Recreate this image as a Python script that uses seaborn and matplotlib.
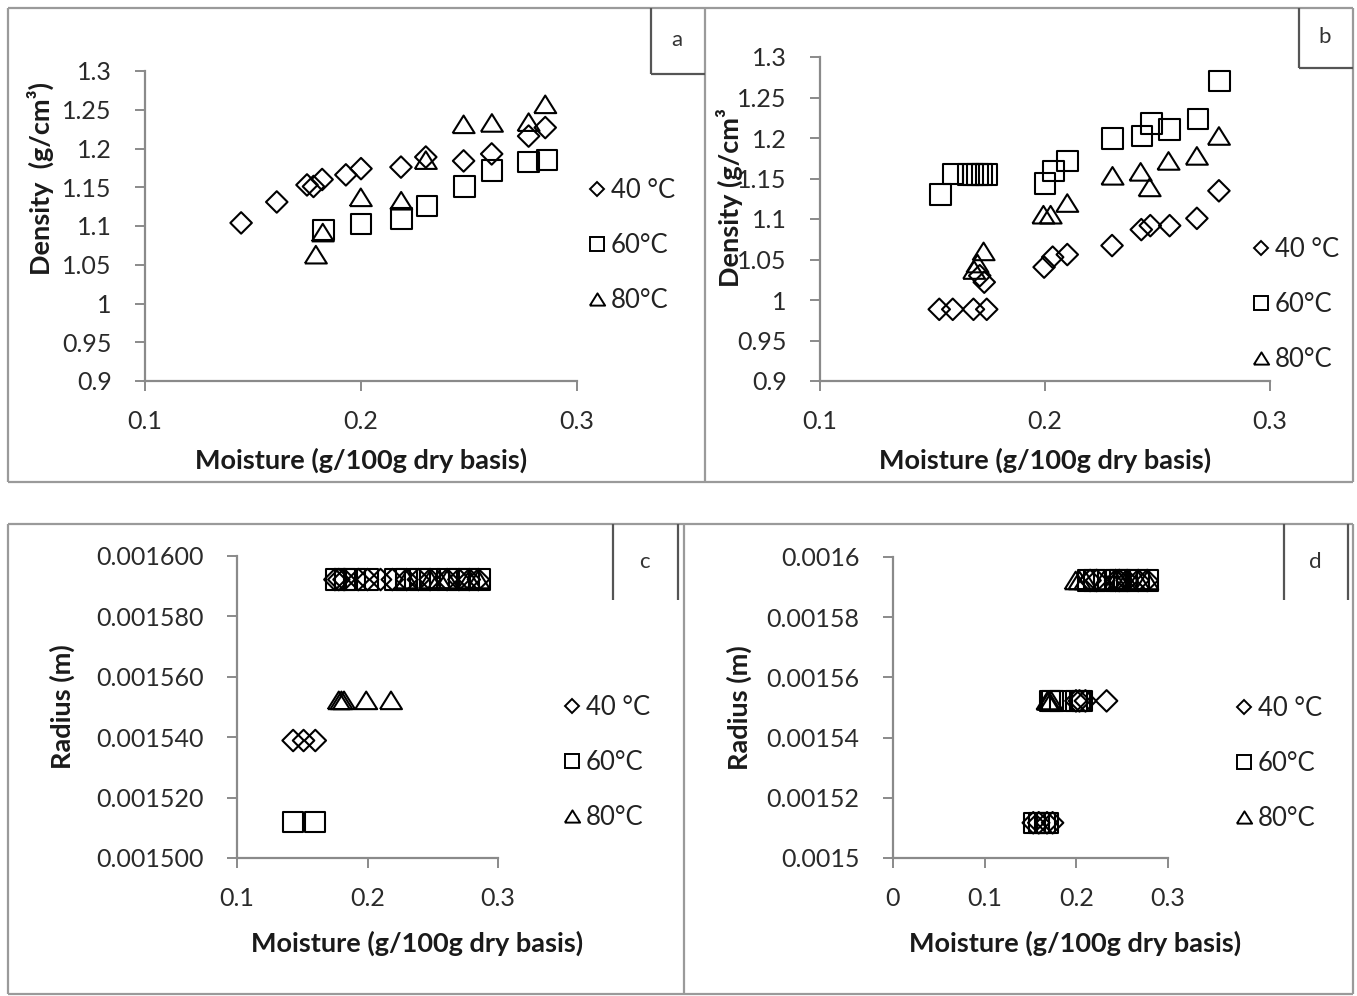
import matplotlib
matplotlib.use("Agg")
import matplotlib.pyplot as plt
import pandas as pd
import seaborn as sns
from matplotlib.lines import Line2D
from matplotlib.ticker import FuncFormatter

# ---------------- data ----------------
TEMPS = ["40 °C", "60°C", "80°C"]

# panel a : density vs moisture
a_x40 = [0.1445, 0.161, 0.175, 0.178, 0.182, 0.193, 0.200, 0.2185, 0.230, 0.2475, 0.2605, 0.2776, 0.2853]
a_y40 = [1.104, 1.131, 1.153, 1.151, 1.160, 1.166, 1.174, 1.176, 1.189, 1.184, 1.193, 1.216, 1.227]
a_x60 = [0.1826, 0.2001, 0.2188, 0.2305, 0.248, 0.2606, 0.2776, 0.2861]
a_y60 = [1.0945, 1.1023, 1.1097, 1.126, 1.151, 1.1715, 1.1824, 1.1854]
a_x80 = [0.1791, 0.1823, 0.1999, 0.2186, 0.230, 0.2475, 0.2606, 0.2776, 0.2853]
a_y80 = [1.063, 1.0915, 1.137, 1.1326, 1.185, 1.2312, 1.233, 1.234, 1.257]

# panel b : density vs moisture
b_x40 = [0.153, 0.159, 0.1682, 0.1741, 0.171, 0.173, 0.1996, 0.2034, 0.2099, 0.2298, 0.2428, 0.2468, 0.2554, 0.2675, 0.2773]
b_y40 = [0.9885, 0.9885, 0.9885, 0.9885, 1.030, 1.022, 1.0406, 1.0529, 1.0561, 1.0672, 1.0869, 1.0918, 1.0918, 1.1008, 1.1348]
b_x60 = [0.1535, 0.1591, 0.166, 0.168, 0.170, 0.172, 0.174, 0.200, 0.2037, 0.210, 0.230, 0.2431, 0.2473, 0.2554, 0.268, 0.2775]
b_y60 = [1.1303, 1.1553, 1.155, 1.155, 1.155, 1.155, 1.155, 1.1439, 1.1594, 1.1717, 1.1992, 1.2025, 1.218, 1.2107, 1.2238, 1.2701]
b_x80 = [0.1685, 0.170, 0.1727, 0.1993, 0.2025, 0.2099, 0.230, 0.2425, 0.2465, 0.2549, 0.2675, 0.2773]
b_y80 = [1.037, 1.045, 1.060, 1.1053, 1.1053, 1.1197, 1.1533, 1.1582, 1.139, 1.1717, 1.1779, 1.2025]

# panel c : radius vs moisture
c_x40 = [0.143, 0.151, 0.160, 0.175, 0.178, 0.182, 0.193, 0.200, 0.210, 0.219, 0.230, 0.239, 0.248, 0.261, 0.270, 0.278, 0.285]
c_y40 = [0.0015389, 0.0015389, 0.0015389, 0.0015922, 0.0015922, 0.0015922, 0.0015922, 0.0015922, 0.0015922,
         0.0015922, 0.0015922, 0.0015922, 0.0015922, 0.0015922, 0.0015922, 0.0015922, 0.0015922]
c_x60 = [0.143, 0.160, 0.176, 0.183, 0.190, 0.200, 0.221, 0.230, 0.240, 0.248, 0.261, 0.270, 0.278, 0.286]
c_y60 = [0.0015119, 0.0015119, 0.0015922, 0.0015922, 0.0015922, 0.0015922, 0.0015922, 0.0015922,
         0.0015922, 0.0015922, 0.0015922, 0.0015922, 0.0015922, 0.0015922]
c_x80 = [0.178, 0.180, 0.182, 0.199, 0.218, 0.230, 0.248, 0.255, 0.261, 0.278, 0.285]
c_y80 = [0.0015522, 0.0015522, 0.0015522, 0.0015522, 0.0015522, 0.0015922, 0.0015922, 0.0015922,
         0.0015922, 0.0015922, 0.0015922]

# panel d : radius vs moisture
d_x40 = [0.153, 0.159, 0.168, 0.1741, 0.1996, 0.2034, 0.2099, 0.2330, 0.215, 0.222, 0.2428, 0.2468, 0.2554, 0.2675, 0.2773]
d_y40 = [0.0015117, 0.0015117, 0.0015117, 0.0015117, 0.0015522, 0.0015522, 0.0015522, 0.0015522,
         0.0015922, 0.0015922, 0.0015922, 0.0015922, 0.0015922, 0.0015922, 0.0015922]
d_x60 = [0.1545, 0.159, 0.166, 0.1685, 0.171, 0.174, 0.182, 0.200, 0.2037, 0.206,
         0.213, 0.220, 0.230, 0.2431, 0.2473, 0.2554, 0.268, 0.2775]
d_y60 = [0.0015117, 0.0015117, 0.0015117, 0.0015117, 0.0015522, 0.0015522, 0.0015522, 0.0015522,
         0.0015522, 0.0015522, 0.0015922, 0.0015922, 0.0015922, 0.0015922, 0.0015922, 0.0015922,
         0.0015922, 0.0015922]
d_x80 = [0.1685, 0.170, 0.1727, 0.1993, 0.2035, 0.2099, 0.230, 0.2425, 0.2465, 0.2549, 0.2675, 0.2773]
d_y80 = [0.0015522, 0.0015522, 0.0015522, 0.0015922, 0.0015922, 0.0015922, 0.0015922, 0.0015922,
         0.0015922, 0.0015922, 0.0015922, 0.0015922]

a_yticks = [0.9, 0.95, 1.0, 1.05, 1.1, 1.15, 1.2, 1.25, 1.3]
c_yticks = [0.0015, 0.00152, 0.00154, 0.00156, 0.00158, 0.0016]

# ---------------- style ----------------
sns.set_theme(style="white")
plt.rcParams["font.family"] = ["Lato", "DejaVu Sans"]

W, H = 1357, 996
fig = plt.figure(figsize=(W / 100, H / 100), dpi=100)

GRAY = "#8a8a8a"
FRAME = "#9a9a9a"
TRI = [(-1, -0.8), (1, -0.8), (0, 0.8), (-1, -0.8)]
MARK = {"40 °C": ("D", 120), "60°C": ("s", 215), "80°C": (TRI, 250)}
LEG = {"40 °C": ("D", 7.5), "60°C": ("s", 10.5), "80°C": (TRI, 11.0)}
TICK_FS = 18
LAB_FS = 19.5
LEG_FS = 18.5


def fx(x):
    return x / W


def fy(y):
    return 1 - y / H


def add_axes(x0, x1, ytop, ybot):
    return fig.add_axes([fx(x0), fy(ybot), (x1 - x0) / W, (ybot - ytop) / H])


def line(xs, ys, color=FRAME, lw=1.6):
    fig.add_artist(Line2D([fx(v) for v in xs], [fy(v) for v in ys], color=color, lw=lw,
                          transform=fig.transFigure, solid_capstyle="butt"))


def make_df(xs, ys, temp):
    return pd.DataFrame({"moisture": xs, "value": ys, "temp": temp})


def panel(ax, series, xlim, xticks, ylim, yticks, yfmt, ylabel, ylab_pos, xlab_pos, leg_anchor):
    for temp, (xs, ys) in zip(TEMPS, series):
        m, s = MARK[temp]
        sns.scatterplot(data=make_df(xs, ys, temp), x="moisture", y="value", marker=m, s=s,
                        facecolor="none", edgecolor="black", linewidth=1.5, legend=False,
                        ax=ax, clip_on=False, zorder=3)
    ax.set_xlim(*xlim)
    ax.set_ylim(*ylim)
    ax.set_xticks(xticks)
    ax.set_yticks(yticks)
    ax.xaxis.set_major_formatter(FuncFormatter(lambda v, p: "%g" % round(v, 6)))
    ax.yaxis.set_major_formatter(FuncFormatter(yfmt))
    ax.patch.set_alpha(0)
    for side in ["top", "right"]:
        ax.spines[side].set_visible(False)
    for side in ["left", "bottom"]:
        ax.spines[side].set_color(GRAY)
        ax.spines[side].set_linewidth(1.6)
    ax.tick_params(axis="both", which="major", direction="out", length=7, width=1.4,
                   color=GRAY, labelcolor="#2a2a2a", labelsize=TICK_FS)
    ax.tick_params(axis="y", pad=17, left=True)
    ax.tick_params(axis="x", pad=14, bottom=True)
    ax.set_xlabel("Moisture (g/100g dry basis)", fontsize=LAB_FS, fontweight="bold", color="#1a1a1a")
    ax.set_ylabel(ylabel, fontsize=LAB_FS, fontweight="bold", color="#1a1a1a")
    ax.xaxis.set_label_coords(*xlab_pos)
    ax.yaxis.set_label_coords(*ylab_pos)
    handles = [Line2D([], [], ls="none", marker=LEG[t][0], markersize=LEG[t][1],
                      markerfacecolor="none", markeredgecolor="black", markeredgewidth=1.4)
               for t in TEMPS]
    ax.legend(handles, TEMPS, loc="upper left", bbox_to_anchor=(fx(leg_anchor[0]), fy(leg_anchor[1])),
              bbox_transform=fig.transFigure, frameon=False, fontsize=LEG_FS, handlelength=0.6,
              handletextpad=0.25, labelspacing=1.16, borderpad=0, borderaxespad=0,
              labelcolor="#222222")


fmt_g = lambda v, p: "%g" % round(v, 8)
fmt_6 = lambda v, p: "%.6f" % v

# panel a
ax_a = add_axes(145, 577, 71, 381)
panel(ax_a, [(a_x40, a_y40), (a_x60, a_y60), (a_x80, a_y80)], (0.1, 0.3), [0.1, 0.2, 0.3],
      (0.9, 1.3), a_yticks, fmt_g, "Density  (g/cm³)", (-0.21, 0.652), (0.5, -0.214), (589, 178))

# panel b
ax_b = add_axes(820, 1270, 57, 381)
panel(ax_b, [(b_x40, b_y40), (b_x60, b_y60), (b_x80, b_y80)], (0.1, 0.3), [0.1, 0.2, 0.3],
      (0.9, 1.3), a_yticks, fmt_g, "Density (g/cm³", (-0.172, 0.565), (0.5, -0.205), (1253, 237))

# panel c
ax_c = add_axes(237, 498, 556, 858)
panel(ax_c, [(c_x40, c_y40), (c_x60, c_y60), (c_x80, c_y80)], (0.1, 0.3), [0.1, 0.2, 0.3],
      (0.0015, 0.0016), c_yticks, fmt_6, "Radius (m)", (-0.62, 0.5), (0.69, -0.242), (564, 695))

# panel d
ax_d = add_axes(893, 1168, 557, 858)
panel(ax_d, [(d_x40, d_y40), (d_x60, d_y60), (d_x80, d_y80)], (0.0, 0.3), [0.0, 0.1, 0.2, 0.3],
      (0.0015, 0.0016), c_yticks, fmt_g, "Radius (m)", (-0.513, 0.5), (0.662, -0.242), (1236, 696))

# ---------------- frames & panel letters ----------------
line([8, 1353], [8, 8])
line([8, 8], [8, 482])
line([8, 1353], [482, 482])
line([705, 705], [8, 482])
line([1353, 1353], [8, 482])
line([8, 1353], [524, 524])
line([8, 8], [524, 994])
line([8, 1353], [994, 994])
line([684, 684], [524, 994])
line([1353, 1353], [524, 994])

line([651, 651], [8, 74], color="#555555")
line([651, 705], [74, 74], color="#555555")
line([1299, 1299], [8, 68], color="#555555")
line([1299, 1353], [68, 68], color="#555555")
line([613, 613], [524, 600], color="#555555")
line([678, 678], [524, 600], color="#555555")
line([1284, 1284], [524, 600], color="#555555")
line([1348, 1348], [524, 600], color="#555555")

for letter, (x, y) in {"a": (677, 40), "b": (1325, 37), "c": (644, 562), "d": (1315, 562)}.items():
    fig.text(fx(x), fy(y), letter, ha="center", va="center", fontsize=16, color="#333333")

fig.savefig("out.png", dpi=100)
